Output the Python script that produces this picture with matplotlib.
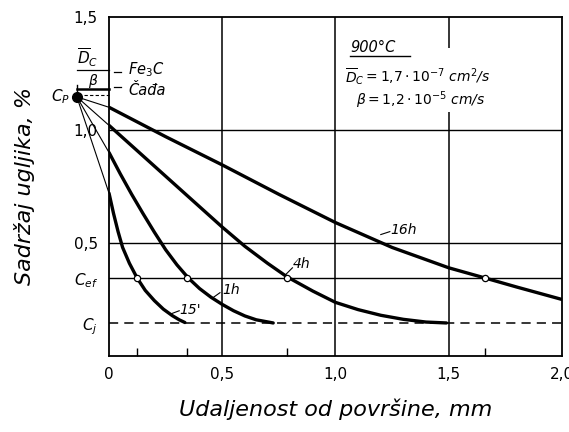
import numpy as np
import matplotlib.pyplot as plt
from matplotlib.patches import Rectangle

plt.rcParams['font.family'] = ['DejaVu Sans']
plt.rcParams['mathtext.fontset'] = 'dejavusans'
plt.rcParams['mathtext.default'] = 'it'

# ocitano sa slike: udaljenost (mm) i sadrzaj ugljika (%)
x_16h = [0, 0.25, 0.5, 0.75, 1.0, 1.25, 1.5, 1.66, 1.8, 2.0]
c_16h = [1.10, 0.97, 0.845, 0.715, 0.59, 0.48, 0.39, 0.345, 0.305, 0.25]

x_4h = [0, 0.1, 0.2, 0.31, 0.4, 0.5, 0.6, 0.7, 0.786, 0.9, 1.0, 1.1, 1.2, 1.3, 1.4, 1.49]
c_4h = [1.02, 0.93, 0.84, 0.741, 0.66, 0.57, 0.485, 0.41, 0.35, 0.287, 0.237,
        0.205, 0.18, 0.162, 0.15, 0.146]

x_1h = [0, 0.05, 0.1, 0.15, 0.2, 0.25, 0.3, 0.35, 0.4, 0.45, 0.5, 0.55, 0.6, 0.65, 0.725]
c_1h = [0.90, 0.805, 0.715, 0.63, 0.548, 0.47, 0.403, 0.345, 0.298, 0.26, 0.228, 0.2,
        0.177, 0.16, 0.146]

x_15m = [0, 0.02, 0.04, 0.06, 0.09, 0.124, 0.16, 0.2, 0.24, 0.28, 0.31, 0.335]
c_15m = [0.72, 0.63, 0.55, 0.48, 0.41, 0.345, 0.29, 0.245, 0.207, 0.178, 0.16, 0.148]

C_p = 1.146
x_p = -0.142        # D/beta
C_ef = 0.345
C_j = 0.146
C_fe3c = 1.257
C_cada = 1.19
x_ef = [0.124, 0.345, 0.786, 1.66]   # presjeci sa C_ef

fig = plt.figure(figsize=(5.69, 4.32), dpi=100)
ax = fig.add_axes([0.1916, 0.176, 0.796, 0.785])
ax.set_xlim(0, 2.0)
ax.set_ylim(0, 1.5)
for s in ax.spines.values():
    s.set_linewidth(1.3)

# mreza
for yy in [1.0, 0.5, C_ef]:
    ax.axhline(yy, color='black', lw=1.0, zorder=1)
for xx in [0.5, 1.0, 1.5]:
    ax.axvline(xx, color='black', lw=1.1, zorder=1)
ax.axhline(C_j, color='black', lw=1.1, ls=(0, (6, 4)), zorder=1)

# krivulje
for xs, cs in [(x_16h, c_16h), (x_4h, c_4h), (x_1h, c_1h), (x_15m, c_15m)]:
    ax.plot(xs, cs, color='black', lw=2.4, solid_capstyle='round',
            solid_joinstyle='round', zorder=3)
    ax.plot([x_p, 0], [C_p, cs[0]], color='black', lw=0.8, clip_on=False, zorder=2)

ax.plot(x_ef, [C_ef] * len(x_ef), 'o', ms=4.5, mfc='white', mec='black', mew=0.9, zorder=4)
ax.plot([x_p], [C_p], 'o', ms=7, color='black', clip_on=False, zorder=4)

# oznake Fe3C i cada
ax.plot([0.02, 0.055], [C_fe3c, C_fe3c], color='black', lw=0.9)
ax.plot([0.02, 0.055], [C_cada, C_cada], color='black', lw=0.9)
ax.plot([-0.14, 0], [1.18, 1.18], color='black', lw=1.8, clip_on=False)
ax.plot([-0.14, -0.14], [1.16, 1.2], color='black', lw=1.0, clip_on=False)
ax.plot([-0.11, 0], [1.155, 1.155], color='black', lw=0.8, ls=(0, (3, 2)), clip_on=False)
ax.plot([-0.14, 0], [1.263, 1.263], color='black', lw=0.9, clip_on=False)
ax.text(-0.095, 1.27, r'$\overline{D}_C$', fontsize=11, ha='center', va='bottom')
ax.text(-0.07, 1.215, r'$\beta$', fontsize=10, ha='center', va='center')
ax.text(0.085, C_fe3c + 0.01, 'Fe$_3$C', fontsize=10.5, style='italic', va='center')
ax.text(0.085, C_cada - 0.015, 'Čađa', fontsize=10.5, style='italic', va='center')
ax.text(x_p - 0.03, C_p, '$C_P$', fontsize=11, ha='right', va='center')

# nazivi krivulja
ax.plot([0.27, 0.31], [0.185, 0.2], color='black', lw=0.8)
ax.text(0.31, 0.205, "15'", fontsize=10, style='italic', va='center')
ax.plot([0.455, 0.49], [0.255, 0.28], color='black', lw=0.8)
ax.text(0.5, 0.29, '1h', fontsize=10, style='italic', va='center')
ax.plot([0.775, 0.81], [0.355, 0.39], color='black', lw=0.8)
ax.text(0.81, 0.405, '4h', fontsize=10, style='italic', va='center')
ax.plot([1.2, 1.24], [0.537, 0.55], color='black', lw=0.8)
ax.text(1.24, 0.555, '16h', fontsize=10, style='italic', va='center')

# podaci o procesu
ax.add_patch(Rectangle((1.03, 1.08), 0.72, 0.28, facecolor='white', edgecolor='none', zorder=2))
ax.text(1.065, 1.33, '900°C', fontsize=10.5, style='italic', va='bottom', zorder=3)
ax.plot([1.065, 1.33], [1.325, 1.325], color='black', lw=1.0, zorder=3)
ax.text(1.04, 1.235, r'$\overline{D}_C = 1{,}7\cdot10^{-7}$ cm$^2$/s', fontsize=10,
        va='center', style='italic', zorder=3)
ax.text(1.09, 1.13, r'$\beta = 1{,}2\cdot10^{-5}$ cm/s', fontsize=10,
        va='center', style='italic', zorder=3)

# osi
ax.set_xticks([0, 0.5, 1.0, 1.5, 2.0])
ax.set_xticklabels(['0', '0,5', '1,0', '1,5', '2,0'], fontsize=11)
ax.set_xticks(x_ef, minor=True)
ax.tick_params(axis='x', which='major', length=0, pad=8)
ax.tick_params(axis='x', which='minor', direction='in', length=6, width=1.0)
ax.set_yticks([C_j, C_ef, 0.5, 1.0, 1.5])
ax.set_yticklabels(['$C_j$', '$C_{ef}$', '0,5', '1,0', '1,5'], fontsize=11)
ax.tick_params(axis='y', length=0, pad=8)

ax.set_xlabel('Udaljenost od površine, mm', fontsize=16, style='italic', labelpad=12)
ax.set_ylabel('Sadržaj ugljika, %', fontsize=16, style='italic', labelpad=28)

fig.savefig('out.png', dpi=100)
